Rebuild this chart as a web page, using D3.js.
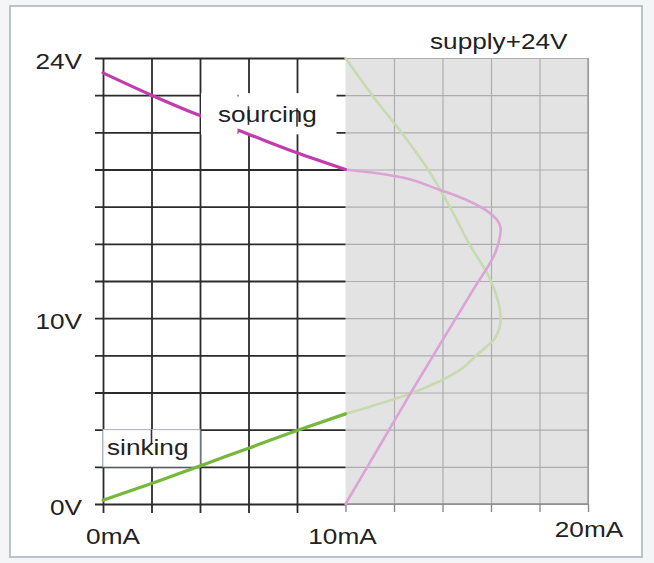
<!DOCTYPE html>
<html>
<head>
<meta charset="utf-8">
<script src="https://cdn.jsdelivr.net/npm/d3@7"></script>
<style>
  body { margin: 0; background: #f3f5f6; }
  svg { display: block; }
  text { font-family: "Liberation Sans", Arial, sans-serif; font-size: 22px; fill: #222; }
</style>
</head>
<body>
<div id="chart"></div>
<script>
// Axis labels (current on x, voltage on y)
const currentLabels = ["0mA", "10mA", "20mA"];
const currentLabelAt = [0, 10, 20];
const voltLabels = ["0V", "10V", "24V"];
const voltLabelAt = [0, 10, 24];

// Grid steps
const gridCurrentsWhite = [0, 2, 4, 6, 8];
const gridCurrentsGrey = [12, 14, 16, 18, 20];
const gridVolts = [0, 2, 4, 6, 8, 10, 12, 14, 16, 18, 20, 22, 24];

// Sourcing output, usable part (0..10mA)
const sourcingCurrent = [0, 2, 4, 6, 8, 10];
const sourcingVolts = [23.2, 22, 20.9, 19.9, 18.9, 18.0];
// Sourcing output beyond 10mA (faded)
const sourcingOverCurrent = [10, 11.3, 13.9, 15.8, 16.4, 16.2, 15.3, 13.9, 12.7, 11.8, 10.9, 10];
const sourcingOverVolts = [18.0, 17.8, 16.9, 15.8, 14.8, 13.6, 11.6, 8.6, 6, 4, 2, 0];

// Sinking output, usable part (0..10mA)
const sinkingCurrent = [0, 2, 4, 6, 8, 10];
const sinkingVolts = [0.2, 1.1, 2.05, 3.0, 3.95, 4.85];
// Sinking output beyond 10mA (faded)
const sinkingOverCurrent = [10, 12.8, 14.7, 15.4, 16.2, 16.4, 16.0, 15.1, 14.3, 13.4, 12.3, 11.1, 10];
const sinkingOverVolts = [4.85, 6, 7.2, 8, 9, 10, 12, 14, 16, 18, 20, 22, 24];

const width = 654, height = 563;
const stretch = 1.19; // text in the picture is a bit wide

const svg = d3.select("#chart").append("svg")
    .attr("width", width)
    .attr("height", height);

const x = d3.scaleLinear().domain([0, 20]).range([103, 588]);
const y = d3.scaleLinear().domain([0, 24]).range([504, 58]);

// outer frame
svg.append("rect")
   .attr("x", 10).attr("y", 6)
   .attr("width", 632).attr("height", 551)
   .attr("fill", "#fff")
   .attr("stroke", "#b7c4c8")
   .attr("stroke-width", 2);

// grey zone above 10mA
svg.append("rect")
   .attr("x", x(10)).attr("y", y(24))
   .attr("width", x(20) - x(10)).attr("height", y(0) - y(24))
   .attr("fill", "#e3e3e3");

// light grid in the grey zone
svg.append("g")
   .attr("transform", `translate(${x(10)},0)`)
   .call(d3.axisRight(y).tickValues(gridVolts).tickSize(x(20) - x(10)).tickFormat(""))
   .call(g => g.select(".domain").remove())
   .call(g => g.selectAll("line").attr("stroke", "#adadad").attr("stroke-width", 1.2));

svg.append("g")
   .attr("transform", `translate(0,${y(24)})`)
   .call(d3.axisBottom(x).tickValues(gridCurrentsGrey).tickSize(y(0) - y(24)).tickFormat(""))
   .call(g => g.select(".domain").remove())
   .call(g => g.selectAll("line").attr("stroke", "#adadad").attr("stroke-width", 1.2));

// small ticks under the grey zone
svg.append("g")
   .attr("transform", `translate(0,${y(0)})`)
   .call(d3.axisBottom(x).tickValues([10].concat(gridCurrentsGrey)).tickSize(8).tickFormat(""))
   .call(g => g.select(".domain").remove())
   .call(g => g.selectAll("line").attr("stroke", "#8a8a8a").attr("stroke-width", 1.4));

svg.append("line")
   .attr("x1", x(10)).attr("x2", x(20))
   .attr("y1", y(0)).attr("y2", y(0))
   .attr("stroke", "#8a8a8a").attr("stroke-width", 1.4);
svg.append("line")
   .attr("x1", x(20)).attr("x2", x(20))
   .attr("y1", y(24)).attr("y2", y(0))
   .attr("stroke", "#999").attr("stroke-width", 1.4);

// dark grid in the white zone
svg.append("g")
   .attr("transform", `translate(${x(10)},0)`)
   .call(d3.axisLeft(y).tickValues(gridVolts).tickSize(x(10) - x(0) + 8).tickFormat(""))
   .call(g => g.select(".domain").remove())
   .call(g => g.selectAll("line").attr("stroke", "#2b2b2b").attr("stroke-width", 1.8));

svg.append("g")
   .attr("transform", `translate(0,${y(24)})`)
   .call(d3.axisBottom(x).tickValues(gridCurrentsWhite).tickSize(y(0) - y(24) + 9).tickFormat(""))
   .call(g => g.select(".domain").remove())
   .call(g => g.selectAll("line").attr("stroke", "#2b2b2b").attr("stroke-width", 1.8));

// label box for "sourcing" (right part sits under the curve)
svg.append("rect")
   .attr("x", x(6) - 10).attr("y", y(22) - 2)
   .attr("width", x(10) - x(6) + 1).attr("height", y(20) - y(22) + 4)
   .attr("fill", "#fff");

// label box for "sinking"
svg.append("rect")
   .attr("x", x(0)).attr("y", y(4))
   .attr("width", x(4) - x(0)).attr("height", y(2) - y(4))
   .attr("fill", "#fff")
   .attr("stroke", "#b4bfcc")
   .attr("stroke-width", 1);

const line = d3.line()
    .x(d => x(d[0]))
    .y(d => y(d[1]))
    .curve(d3.curveMonotoneY);

function drawCurve(cur, volts, color, w) {
    svg.append("path")
       .datum(d3.zip(cur, volts))
       .attr("d", line)
       .attr("fill", "none")
       .attr("stroke", color)
       .attr("stroke-width", w)
       .attr("stroke-linecap", "round");
}

// faded parts first, then the bold usable parts
drawCurve(sinkingOverCurrent, sinkingOverVolts, "#c7dab0", 2.6);
drawCurve(sourcingOverCurrent, sourcingOverVolts, "#dca4d6", 2.6);
drawCurve(sinkingCurrent, sinkingVolts, "#76b83c", 3.2);
drawCurve(sourcingCurrent, sourcingVolts, "#c23cae", 3.2);

// left part of the "sourcing" box covers the curve
svg.append("rect")
   .attr("x", x(4) + 1).attr("y", y(22) - 2)
   .attr("width", x(6) - x(4) - 12).attr("height", y(20) - y(22) + 4)
   .attr("fill", "#fff");

// bits of grid showing through the labels
[[6, 21.4, 20.4], [8, 21.3, 20.3]].forEach(d => {
    svg.append("line")
       .attr("x1", x(d[0])).attr("x2", x(d[0]))
       .attr("y1", y(d[1])).attr("y2", y(d[2]))
       .attr("stroke", "#333").attr("stroke-width", 1.6);
});
svg.append("line")
   .attr("x1", x(2)).attr("x2", x(2))
   .attr("y1", y(4)).attr("y2", y(3.2))
   .attr("stroke", "#333").attr("stroke-width", 1.6);

// text helper: widened a little like the picture
function label(txt, px, py, anchor) {
    svg.append("text")
       .attr("transform", `translate(${px},${py}) scale(${stretch},1)`)
       .attr("text-anchor", anchor)
       .text(txt);
}

voltLabels.forEach((t, i) => label(t, 82, y(voltLabelAt[i]) + 11, "end"));
const currentShift = [10, -3, 1];
const currentBase = [544, 544, 537];
currentLabels.forEach((t, i) => label(t, x(currentLabelAt[i]) + currentShift[i], currentBase[i], "middle"));

label("supply+24V", 430, 49, "start");
label("sourcing", 218, 122, "start");
label("sinking", 107, 455, "start");
</script>
</body>
</html>
